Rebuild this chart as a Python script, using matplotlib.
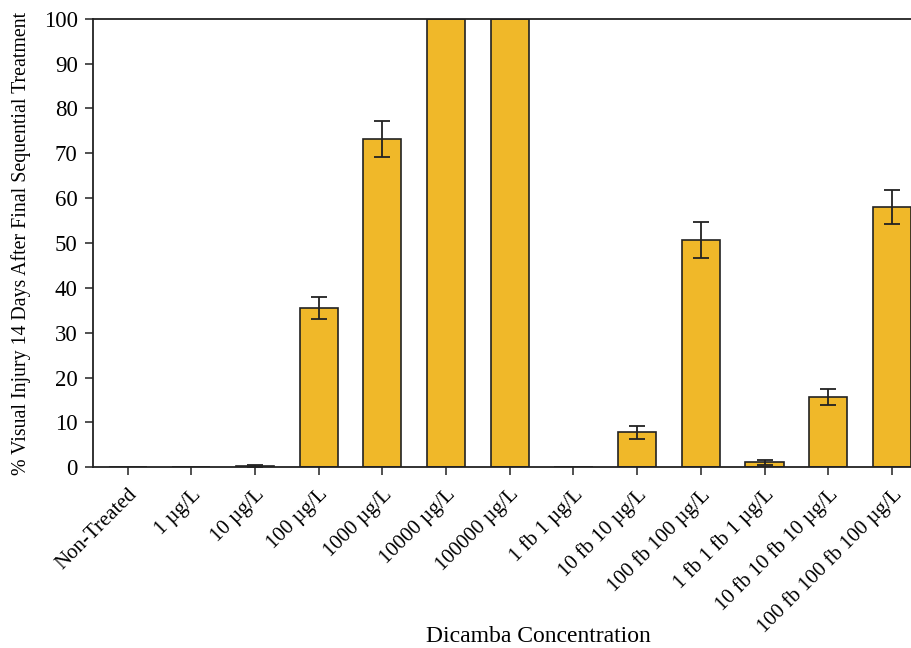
import matplotlib
matplotlib.use("Agg")
import matplotlib.pyplot as plt
import numpy as np

treatments = [
    "Non-Treated", "1 µg/L", "10 µg/L", "100 µg/L", "1000 µg/L",
    "10000 µg/L", "100000 µg/L", "1 fb 1 µg/L", "10 fb 10 µg/L",
    "100 fb 100 µg/L", "1 fb 1 fb 1 µg/L", "10 fb 10 fb 10 µg/L",
    "100 fb 100 fb 100 µg/L",
]
injury = [0, 0, 0.3, 35.5, 73.2, 100, 100, 0, 7.8, 50.7, 1.1, 15.6, 58.0]
injury_se = [0, 0, 0.3, 2.4, 4.1, 0, 0, 0, 1.5, 4.0, 0.5, 1.8, 3.8]

plt.rcParams.update({
    "font.family": "Liberation Serif",
    "font.size": 15,
})

fig = plt.figure(figsize=(9.11, 6.48), dpi=100)
ax = fig.add_axes([0.102, 0.279, 0.898, 0.692])

x = np.arange(len(treatments))
yerr = [e if e > 0 else np.nan for e in injury_se]
ax.bar(x, injury, width=0.6, color="#F0B829", edgecolor="#222222",
       linewidth=1.2, zorder=2)
ax.errorbar(x, injury, yerr=yerr, fmt="none", ecolor="#222222",
            elinewidth=1.3, capsize=6, capthick=1.3, zorder=3)

ax.set_xlim(-0.545, 12.3)
ax.set_ylim(0, 100)
ax.set_yticks(np.arange(0, 101, 10))
ax.set_xticks(x)
ax.set_xticklabels(treatments, rotation=45, ha="right", rotation_mode="anchor")
ax.tick_params(axis="both", direction="out", length=6, width=1.2, color="#333333")
ax.tick_params(axis="y", labelsize=16.5, pad=5)
ax.tick_params(axis="x", pad=7)

for side in ("left", "bottom", "top"):
    ax.spines[side].set_linewidth(1.3)
    ax.spines[side].set_color("#222222")
ax.spines["right"].set_visible(False)

ax.set_ylabel("% Visual Injury 14 Days After Final Sequential Treatment",
              fontsize=14.3)
ax.yaxis.set_label_coords(-0.076, 0.5)
ax.set_xlabel("Dicamba Concentration", fontsize=17)
ax.xaxis.set_label_coords(0.545, -0.355)

fig.savefig("out.png", dpi=100)
